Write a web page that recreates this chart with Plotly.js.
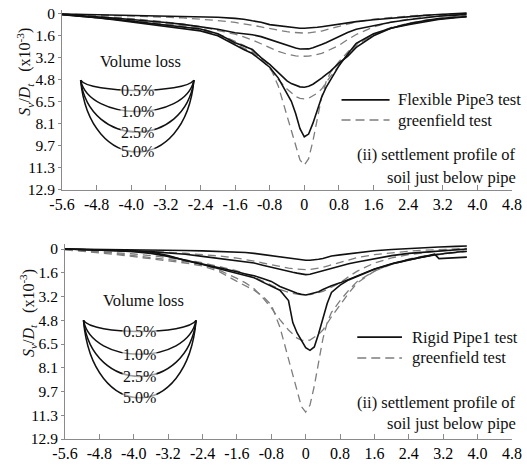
<!DOCTYPE html>
<html>
<head>
<meta charset="utf-8">
<script src="https://cdn.plot.ly/plotly-3.0.1.min.js"></script>
<style>
  html, body { margin: 0; padding: 0; background: #fff; }
  #chart { width: 527px; height: 468px; }
</style>
</head>
<body>
<div id="chart"></div>
<script>
// Horizontal offset from the tunnel centre line, x/D_t
const offsets = [-5.6,-5.2,-4.8,-4.4,-4.0,-3.6,-3.2,-2.8,-2.4,-2.0,-1.6,-1.4,-1.2,-1.0,-0.8,-0.6,-0.4,-0.3,-0.2,-0.1,0,0.1,0.2,0.3,0.4,0.5,0.6,0.8,1.0,1.2,1.6,2.0,2.4,2.8,3.0,3.1,3.5,3.75];

// Greenfield test, soil settlement S_v/D_t (x10^-3) for each volume loss
const green05 = [0,0.03,0.06,0.10,0.14,0.18,0.23,0.29,0.37,0.48,0.62,0.70,0.82,0.95,1.08,1.20,1.30,1.34,1.37,1.39,1.40,1.39,1.36,1.31,1.25,1.16,1.08,0.90,0.72,0.58,0.38,0.24,0.15,0.08,0.05,0.03,-0.02,-0.04];
const green10 = [0.01,0.08,0.15,0.24,0.34,0.45,0.58,0.74,0.93,1.18,1.48,1.68,1.90,2.18,2.48,2.74,2.94,3.02,3.07,3.10,3.10,3.09,3.04,2.97,2.88,2.75,2.60,2.30,1.88,1.50,0.95,0.60,0.38,0.22,0.16,0.13,0.04,0.0];
const green25 = [0.02,0.10,0.20,0.32,0.45,0.58,0.70,0.85,1.05,1.45,2.00,2.30,2.70,3.30,4.00,4.80,5.50,5.80,6.05,6.18,6.22,6.18,6.00,5.80,5.50,5.05,4.60,3.80,3.00,2.30,1.50,1.00,0.68,0.45,0.36,0.32,0.18,0.12];
const green50 = [0.05,0.15,0.25,0.38,0.52,0.66,0.80,0.95,1.15,1.55,2.20,2.50,2.80,3.20,3.80,5.30,7.50,8.60,9.70,10.70,11.07,10.60,9.30,7.70,6.10,5.00,4.30,3.50,2.80,2.20,1.50,1.05,0.75,0.52,0.42,0.38,0.25,0.18];

// Flexible Pipe3 test
const flex05 = [0,0.03,0.05,0.07,0.08,0.11,0.13,0.16,0.19,0.24,0.32,0.38,0.50,0.60,0.78,0.86,0.95,0.99,1.01,1.04,1.05,1.04,1.00,0.97,0.93,0.88,0.84,0.74,0.66,0.56,0.42,0.30,0.18,0.10,0.06,0.04,-0.03,-0.06];
const flex10 = [0.02,0.10,0.20,0.30,0.40,0.50,0.62,0.76,0.92,1.12,1.38,1.45,1.52,1.66,1.88,2.08,2.30,2.42,2.50,2.57,2.59,2.56,2.48,2.38,2.24,2.10,1.95,1.70,1.35,1.12,0.85,0.60,0.42,0.27,0.20,0.17,0.08,0.04];
const flex25 = [0.04,0.14,0.26,0.38,0.52,0.66,0.80,0.94,1.10,1.45,2.10,2.35,2.60,3.20,3.70,4.30,4.90,5.10,5.25,5.34,5.37,5.30,5.15,4.95,4.70,4.45,4.20,3.60,3.10,2.45,1.60,1.05,0.72,0.48,0.38,0.34,0.24,0.20];
const flex50 = [0.06,0.16,0.28,0.42,0.58,0.73,0.88,1.04,1.24,1.60,2.30,2.60,2.90,3.40,3.90,4.70,5.80,6.40,7.30,8.40,9.00,8.80,8.00,7.00,6.10,5.40,4.85,3.80,2.95,2.15,1.45,1.05,0.78,0.55,0.44,0.40,0.28,0.20];

// Rigid Pipe1 test
const rigid05 = [0,0.01,0.02,0.03,0.05,0.07,0.09,0.10,0.13,0.16,0.20,0.24,0.30,0.38,0.45,0.55,0.64,0.68,0.72,0.75,0.76,0.76,0.74,0.70,0.64,0.56,0.48,0.40,0.32,0.24,0.12,0.03,-0.04,-0.10,-0.13,-0.14,-0.18,-0.20];
const rigid10 = [0,0.02,0.05,0.08,0.12,0.18,0.26,0.36,0.50,0.65,0.80,0.88,0.95,1.10,1.25,1.40,1.52,1.58,1.64,1.70,1.74,1.72,1.64,1.55,1.45,1.38,1.30,1.15,1.00,0.88,0.64,0.45,0.30,0.20,0.15,0.12,0.05,0.0];
const rigid25 = [0,0.03,0.07,0.12,0.18,0.30,0.50,0.75,1.00,1.25,1.55,1.70,1.82,2.00,2.20,2.55,2.80,2.90,3.00,3.08,3.12,3.05,2.98,2.90,2.75,2.62,2.50,2.30,2.05,1.80,1.35,1.00,0.72,0.50,0.40,0.36,0.22,0.15];
const rigid50 = [0,0.03,0.06,0.10,0.14,0.20,0.45,0.78,1.05,1.35,1.65,1.82,1.95,2.25,2.50,2.80,3.50,5.00,5.70,6.25,6.70,6.88,6.65,5.75,4.70,3.70,2.95,2.45,2.10,1.85,1.38,1.02,0.75,0.52,0.35,0.65,0.58,0.55];

const lossLabels = ['0.5%', '1.0%', '2.5%', '5.0%'];
const xTickVals = [-5.6,-4.8,-4.0,-3.2,-2.4,-1.6,-0.8,0,0.8,1.6,2.4,3.2,4.0,4.8];
const xTickText = ['-5.6','-4.8','-4.0','-3.2','-2.4','-1.6','-0.8','0','0.8','1.6','2.4','3.2','4.0','4.8'];
const yTickVals = [0,1.6125,3.225,4.8375,6.45,8.0625,9.675,11.2875,12.9];
const yTickText = ['0','1.6','3.2','4.8','6.5','8.1','9.7','11.3','12.9'];

const SERIF = 'Liberation Serif';
const SOLID = { color: '#111', width: 1.6 };
const DASHED = { color: '#7d7d7d', width: 1.3, dash: '8px,5px' };

function series(y, line, xa, ya) {
  return { type: 'scatter', mode: 'lines', x: offsets, y: y, line: line,
           xaxis: xa, yaxis: ya, hoverinfo: 'skip', showlegend: false };
}

const greenSets = [green05, green10, green25, green50];
const traces = [];
greenSets.forEach(g => traces.push(series(g, DASHED, 'x', 'y')));
[flex05, flex10, flex25, flex50].forEach(s => traces.push(series(s, SOLID, 'x', 'y')));
greenSets.forEach(g => traces.push(series(g, DASHED, 'x2', 'y2')));
[rigid05, rigid10, rigid25, rigid50].forEach(s => traces.push(series(s, SOLID, 'x2', 'y2')));

function xAxis(domain, anchor) {
  return {
    domain: domain, anchor: anchor, range: [-5.6, 4.8],
    tickmode: 'array', tickvals: xTickVals, ticktext: xTickText,
    showline: true, linecolor: '#8a8a8a', linewidth: 1,
    ticks: 'inside', ticklen: 5, tickcolor: '#8a8a8a',
    showgrid: false, zeroline: false,
    tickfont: { family: SERIF, size: 16, color: '#000' }
  };
}
function yAxis(domain, anchor, top) {
  return {
    domain: domain, anchor: anchor, range: [12.9, top],
    tickmode: 'array', tickvals: yTickVals, ticktext: yTickText,
    showline: true, linecolor: '#8a8a8a', linewidth: 1,
    ticks: 'outside', ticklen: 3, tickcolor: '#8a8a8a',
    showgrid: false, zeroline: false,
    tickfont: { family: SERIF, size: 15.5, color: '#000' }
  };
}

const shapes = [];
const annotations = [];
const txt = (size) => ({ family: SERIF, size: size, color: '#111' });

// Schematic of the four volume-loss troughs, drawn in each panel
function volumeLossKey(xr, yr) {
  const x0 = -5.17, x1 = -2.55, y0 = 4.85, xm = (x0 + x1) / 2;
  const bottoms = [5.6, 7.15, 8.65, 10.1];
  const dx = 0.08 * (x1 - x0);
  bottoms.forEach((b, i) => {
    const h = (b - y0) / 0.75;
    shapes.push({
      type: 'path', xref: xr, yref: yr,
      path: `M ${x0},${y0} C ${x0 + dx},${y0 + h} ${x1 - dx},${y0 + h} ${x1},${y0}`,
      line: { color: '#111', width: 1.5 }
    });
    annotations.push({
      xref: xr, yref: yr, x: xm, y: b, text: lossLabels[i], showarrow: false,
      xanchor: 'center', yanchor: 'middle',
      font: txt(16), bgcolor: 'rgba(255,255,255,0.6)', borderpad: 0
    });
  });
  annotations.push({ xref: xr, yref: yr, x: -3.78, y: 3.5, text: 'Volume loss',
                     xanchor: 'center', yanchor: 'middle', showarrow: false, font: txt(16.5) });
}
volumeLossKey('x', 'y');
volumeLossKey('x2', 'y2');

// Line keys and captions
function key(xr, yr, xa, xb, ySolid, yDash, xText, label) {
  shapes.push({ type: 'line', xref: xr, yref: yr, x0: xa, x1: xb, y0: ySolid, y1: ySolid,
                line: { color: '#111', width: 1.8 } });
  shapes.push({ type: 'line', xref: xr, yref: yr, x0: xa, x1: xb, y0: yDash, y1: yDash,
                line: { color: '#7d7d7d', width: 1.4, dash: '9px,5px' } });
  annotations.push({ xref: xr, yref: yr, x: xText, y: ySolid, xanchor: 'left', yanchor: 'middle',
                     text: label, showarrow: false, font: txt(16.5) });
  annotations.push({ xref: xr, yref: yr, x: xText, y: yDash, xanchor: 'left', yanchor: 'middle',
                     text: 'greenfield test', showarrow: false, font: txt(16.5) });
}
key('x', 'y', 0.86, 1.97, 6.3, 7.77, 2.12, 'Flexible Pipe3 test');
key('x2', 'y2', 1.2, 2.24, 5.98, 7.4, 2.42, 'Rigid Pipe1 test');

function caption(yTop, yBot) {
  annotations.push({ xref: 'paper', yref: 'paper', x: 0.983, y: yTop, xanchor: 'right', yanchor: 'middle',
                     text: '(ii) settlement profile of', showarrow: false, font: txt(16.5) });
  annotations.push({ xref: 'paper', yref: 'paper', x: 0.983, y: yBot, xanchor: 'right', yanchor: 'middle',
                     text: 'soil just below pipe', showarrow: false, font: txt(16.5) });
}
caption(0.669, 0.620);
caption(0.141, 0.096);

// Vertical axis titles
const yTitle = '<i>S</i><sub><i>v</i></sub>/<i>D</i><sub><i>t</i></sub>   (x10<sup>-3</sup>)';
annotations.push({ xref: 'paper', yref: 'paper', x: 0.047, y: 0.846, text: yTitle,
                   xanchor: 'center', yanchor: 'middle',
                   textangle: -90, showarrow: false, font: txt(16) });
annotations.push({ xref: 'paper', yref: 'paper', x: 0.053, y: 0.331, text: yTitle,
                   xanchor: 'center', yanchor: 'middle',
                   textangle: -90, showarrow: false, font: txt(16) });

const layout = {
  width: 527, height: 468,
  margin: { l: 0, r: 0, t: 0, b: 0 },
  paper_bgcolor: '#fff', plot_bgcolor: '#fff',
  showlegend: false,
  font: { family: SERIF, color: '#000' },
  xaxis: xAxis([0.11765, 0.97154], 'y'),
  yaxis: yAxis([0.59402, 0.97885], 'x', -0.3),
  xaxis2: xAxis([0.12334, 0.97154], 'y2'),
  yaxis2: yAxis([0.061966, 0.47897], 'x2', -0.35),
  shapes: shapes,
  annotations: annotations
};

Plotly.newPlot('chart', traces, layout, { staticPlot: true, displayModeBar: false });
</script>
</body>
</html>
